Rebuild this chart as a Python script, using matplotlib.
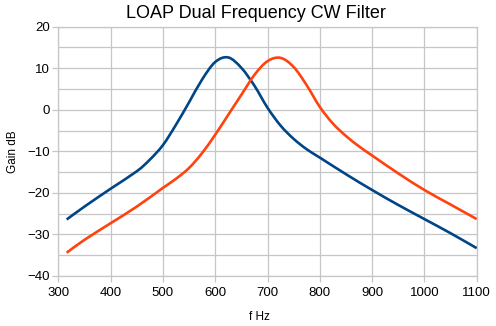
import matplotlib
matplotlib.use("Agg")
import numpy as np
import matplotlib.pyplot as plt
from matplotlib.path import Path
from matplotlib.patches import PathPatch
from matplotlib.ticker import MultipleLocator

# values
freq_lo = [316, 350, 400, 450, 475, 500, 525, 550, 575, 600, 625, 650, 675,
           700, 725, 750, 775, 800, 850, 900, 950, 1000, 1050, 1100]
gain_lo = [-26.4, -23.3, -19.0, -14.8, -12.0, -8.5, -3.6, 1.8, 7.3, 11.5,
           12.6, 10.1, 5.8, 0.5, -3.8, -7.0, -9.5, -11.5, -15.5, -19.3, -22.9,
           -26.3, -29.7, -33.3]

freq_hi = [316, 350, 400, 450, 500, 525, 550, 575, 600, 625, 650, 675, 700,
           725, 750, 775, 800, 825, 850, 875, 900, 950, 1000, 1050, 1100]
gain_hi = [-34.4, -31.3, -27.3, -23.3, -18.8, -16.6, -14.0, -10.4, -6.0,
           -1.2, 3.6, 8.4, 11.7, 12.5, 10.3, 5.9, 0.7, -3.3, -6.3, -8.8,
           -11.0, -15.3, -19.3, -22.8, -26.3]

x_ticks = [300, 400, 500, 600, 700, 800, 900, 1000, 1100]
y_ticks = [-40, -30, -20, -10, 0, 10, 20]


def smooth_path(ax, xs, ys):
    # the original chart draws the series as a spline, so join the points
    # with Catmull-Rom bezier segments in display space
    pts = ax.transData.transform(np.column_stack([xs, ys]))
    verts = [pts[0]]
    codes = [Path.MOVETO]
    n = len(pts)
    for i in range(n - 1):
        p0 = pts[max(i - 1, 0)]
        p1 = pts[i]
        p2 = pts[i + 1]
        p3 = pts[min(i + 2, n - 1)]
        verts += [p1 + (p2 - p0) / 6, p2 - (p3 - p1) / 6, p2]
        codes += [Path.CURVE4] * 3
    return Path(verts, codes)


plt.rcParams["font.family"] = ["Liberation Sans", "DejaVu Sans"]

fig = plt.figure(figsize=(4.96, 3.26), dpi=100)
ax = fig.add_axes([58.3 / 496, 1 - 276 / 326, (476.7 - 58.3) / 496, (276 - 26.7) / 326])

grid_col = "#c6c6c6"
ax.set_xlim(300, 1100)
ax.set_ylim(-40, 20)

for xs, ys, col in [(freq_lo, gain_lo, "#004586"), (freq_hi, gain_hi, "#ff420e")]:
    patch = PathPatch(smooth_path(ax, xs, ys), transform=None, fill=False,
                      edgecolor=col, lw=1.9, capstyle="butt", zorder=3)
    ax.add_artist(patch)

ax.set_xticks(x_ticks)
ax.set_yticks(y_ticks)
ax.yaxis.set_minor_locator(MultipleLocator(5))
ax.grid(True, which="both", color=grid_col, lw=0.9, zorder=0)
ax.tick_params(which="major", length=4, width=0.9, color=grid_col,
               labelsize=9.5, labelcolor="black", pad=2)
ax.tick_params(which="minor", length=0)
ax.tick_params(axis="x", pad=4)
for s in ax.spines.values():
    s.set_color(grid_col)
    s.set_linewidth(0.9)

ax.set_ylabel("Gain dB", fontsize=8.5, labelpad=6)
ax.set_xlabel("f Hz", fontsize=8.5)
ax.xaxis.set_label_coords((259 - 58.3) / (476.7 - 58.3), -0.14)

fig.text(256 / 496, 1 - 18 / 326, "LOAP Dual Frequency CW Filter",
         ha="center", va="baseline", fontsize=13)

fig.savefig("out.png", dpi=100)
